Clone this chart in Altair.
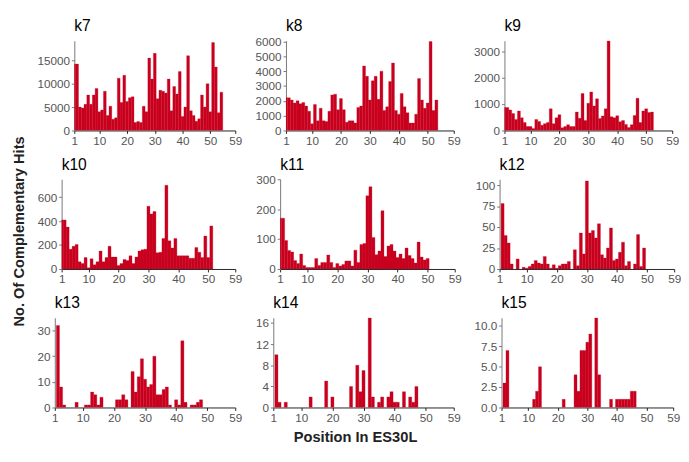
import altair as alt
import pandas as pd

RED = "#C8001E"
FONT = "Liberation Sans"

# values listed for positions 1..N (each bar centred on its position)
K7 = [14200, 14200, 5000, 4800, 5600, 7600, 5600, 7600, 9000, 4000, 4400, 8400, 3200, 5200,
      2400, 2700, 11200, 6000, 11800, 6200, 7000, 7200, 1700, 1900, 1700, 5200, 4000,
      15500, 11000, 16500, 6800, 8600, 8400, 8000, 11000, 4200, 9400, 7800, 12600, 3000,
      5000, 16000, 4200, 3200, 2000, 2500, 7600, 5000, 10000, 4000, 18800, 13600, 3800, 8200]
K8 = [2200, 2200, 2050, 1850, 2000, 1800, 1880, 1650, 1300, 450, 1750, 650, 1500, 650, 600,
      1300, 2400, 2450, 1400, 2150, 1400, 550, 650, 650, 500, 1550, 1650, 4350, 3650,
      2050, 3350, 3650, 2100, 4000, 1350, 1600, 3300, 4550, 1350, 1100, 2500, 1600, 1200,
      500, 500, 1100, 3500, 2050, 1500, 1850, 6000, 1350, 2050]
K9 = [870, 870, 780, 640, 420, 740, 480, 300, 150, 150, 80, 420, 340, 200, 260, 300, 820, 260,
      480, 600, 100, 150, 220, 150, 150, 700, 460, 1400, 380, 1030, 1460, 930, 1200, 450,
      550, 820, 3400, 520, 480, 560, 330, 380, 230, 110, 220, 570, 1220, 300, 740, 820,
      680, 700]
K10 = [410, 410, 350, 165, 190, 205, 60, 45, 95, 10, 85, 35, 60, 150, 60, 95, 190, 100, 100,
       30, 45, 80, 70, 110, 45, 100, 150, 160, 165, 525, 460, 480, 135, 140, 255, 700, 235,
       175, 255, 110, 110, 110, 110, 90, 90, 180, 140, 95, 275, 95, 360]
K11 = [170, 170, 95, 62, 57, 28, 18, 50, 12, 5, 5, 5, 35, 12, 22, 22, 47, 22, 5, 18, 10, 15,
       27, 27, 10, 63, 22, 82, 85, 245, 275, 105, 48, 60, 195, 42, 77, 82, 60, 38, 50, 35,
       70, 45, 35, 20, 90, 40, 30, 35]
K12 = [0, 78, 40, 31, 6, 0, 12, 0, 2, 1, 3, 6, 10, 7, 6, 15, 6, 1, 5, 1, 4, 6, 6, 9, 0, 23, 4,
       43, 18, 105, 43, 46, 37, 54, 17, 13, 25, 49, 10, 12, 20, 32, 4, 9, 0, 6, 41, 3, 25]
K13 = [0, 32, 8, 1, 0, 0, 0, 2, 0, 0, 1, 1, 6, 5, 1, 4, 0, 0, 0, 0, 3, 3, 5, 3, 0, 14, 6, 12,
       19, 11, 8, 9, 20, 5, 5, 7, 8, 1, 0, 3, 1, 26, 2, 0, 1, 1, 2, 3]
K14 = [0, 10, 1, 0, 1, 0, 0, 0, 0, 0, 0, 0, 2, 0, 0, 0, 0, 5, 0, 2, 0, 0, 0, 0, 0, 4, 0, 8, 3,
       7, 0, 17, 2, 0, 1, 2, 0, 2, 3, 1, 1, 0, 3, 0, 2, 1, 4]
K15 = [0, 3, 7, 0, 0, 0, 0, 0, 0, 0, 0, 1, 2, 5, 0, 0, 0, 0, 0, 0, 0, 1, 0, 0, 0, 4, 2, 7, 7,
       8, 9, 0, 11, 4, 0, 0, 0, 1, 0, 1, 1, 1, 1, 1, 2, 2]

NAMES = ["k7", "k8", "k9", "k10", "k11", "k12", "k13", "k14", "k15"]
SERIES = [K7, K8, K9, K10, K11, K12, K13, K14, K15]
YMAX = [19200, 6050, 3400, 750, 300, 107, 35, 17, 11]
YTICKS = [[0, 5000, 10000, 15000], [0, 1000, 2000, 3000, 4000, 5000, 6000],
          [0, 1000, 2000, 3000], [0, 200, 400, 600], [0, 100, 200, 300],
          [0, 25, 50, 75, 100], [0, 10, 20, 30], [0, 4, 8, 12, 16],
          [0, 2.5, 5, 7.5, 10]]
YFMT = ["d", "d", "d", "d", "d", "d", "d", "d", ".1f"]
XTICKS = [1, 10, 20, 30, 40, 50, 59]
WIDTHS = [165, 172, 172, 178, 179, 179, 185, 185, 176]
PLOT_H = 92


def panel(i):
    vals = SERIES[i]
    df = pd.DataFrame({"pos": list(range(1, len(vals) + 1)), "hits": vals})
    df = df[df["hits"] > 0]
    bars = (
        alt.Chart(df)
        .transform_calculate(x0="datum.pos - 0.5", x1="datum.pos + 0.5")
        .mark_bar(color=RED, clip=True, stroke=RED, strokeWidth=0.3)
        .encode(
            x=alt.X("x0:Q", scale=alt.Scale(domain=[1, 59], nice=False, zero=False),
                    axis=alt.Axis(values=XTICKS, title=None, labelColor="#555",
                                  domainColor="#222", tickColor="#222", tickSize=3,
                                  labelFontSize=12, labelFont=FONT, grid=False,
                                  labelFlush=False, labelPadding=2)),
            x2="x1:Q",
            y=alt.Y("hits:Q", scale=alt.Scale(domain=[0, YMAX[i]], nice=False),
                    axis=alt.Axis(values=YTICKS[i], format=YFMT[i], title=None,
                                  labelColor="#555", domainColor="#777", tickColor="#777",
                                  tickSize=3, labelFontSize=12, labelFont=FONT, grid=False,
                                  labelPadding=2, minExtent=0)),
            y2=alt.datum(0),
        )
    )
    label = (
        alt.Chart(pd.DataFrame({"name": [NAMES[i]]}))
        .mark_text(align="left", baseline="alphabetic", fontSize=16, font=FONT, color="#000")
        .encode(text="name:N", x=alt.value(0), y=alt.value(-10))
    )
    return alt.layer(bars, label).properties(width=WIDTHS[i], height=PLOT_H)


def spacer():
    return (
        alt.Chart(pd.DataFrame({"a": [0]}))
        .mark_text(text="", opacity=0)
        .encode(x=alt.value(0), y=alt.value(0))
        .properties(width=1, height=PLOT_H)
    )


rows = [
    alt.hconcat(spacer(), alt.hconcat(*[panel(3 * r + c) for c in range(3)], spacing=13),
                spacing=5)
    for r in range(3)
]
grid = alt.vconcat(*rows, spacing=11).properties(
    title=alt.TitleParams("Position In ES30L", orient="bottom", anchor="middle",
                          fontSize=15, fontWeight="bold", font=FONT, color="#222", offset=7)
)
chart = alt.hconcat(grid).properties(
    title=alt.TitleParams("No. Of Complementary Hits", orient="left", anchor="middle",
                          fontSize=15, fontWeight="bold", font=FONT, color="#222", offset=4),
    padding={"left": 3, "top": 5, "right": 0, "bottom": 0},
).configure_view(stroke=None)

chart.save("out.html", embed_options={"renderer": "svg", "actions": False})
